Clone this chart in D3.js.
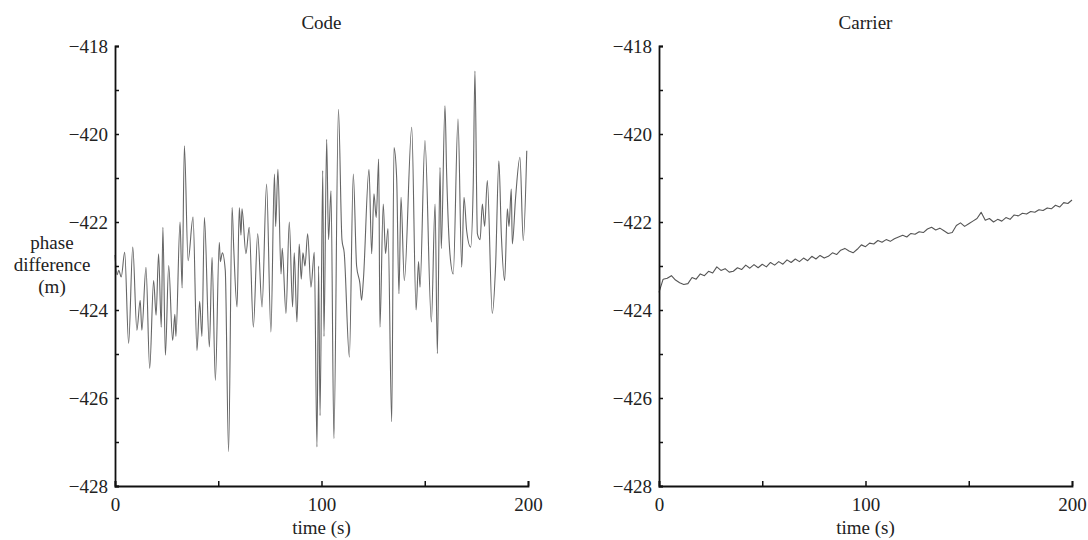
<!DOCTYPE html>
<html>
<head>
<meta charset="utf-8">
<script src="https://cdn.jsdelivr.net/npm/d3@7"></script>
<style>
  body { margin: 0; background: #fff; }
  svg text { font-family: "Liberation Serif", "Times New Roman", serif; fill: #222; }
</style>
</head>
<body>
<script>
// canvas size
var width = 1088;
var height = 540;

// plot boxes (left = Code, right = Carrier)
var top_y = 46, bottom_y = 486;
var panels = [
  {title: "Code", x0: 115, x1: 528},
  {title: "Carrier", x0: 659, x1: 1072}
];

// axis ticks
var yTicks = [-428, -427, -426, -425, -424, -423, -422, -421, -420, -419, -418];
var yLabels = [-428, -426, -424, -422, -420, -418];
var xTicks = [0, 50, 100, 150, 200];
var xLabels = [0, 100, 200];

// code phase difference (time s, value m)
var codeTime = [0, 1, 1.8, 3, 4.7, 6.6, 8.6, 10.6, 12.2, 13, 15, 16.8, 18.7, 19.9, 21.1, 22.4, 23.2, 24.4, 26, 27.9,
  29, 29.5, 31.5, 32.5, 33.6, 35.4, 37.8, 39.7, 41, 42.1, 43.3, 45.7, 47, 48.6, 50.5, 51, 52, 53.4, 55, 56.7,
  57.5, 59.1, 60.2, 61, 61.5, 63.4, 65, 67, 69.1, 71.2, 73.4, 75.5, 77.2, 77.8, 78.9, 80.4, 81, 82.8, 84.4, 86,
  86.8, 88.1, 89.2, 90.2, 91, 92, 93.3, 94.9, 96.5, 97.8, 98.6, 99.3, 100.6, 101.2, 102.5, 103.4, 104.6, 106, 108.2, 109.9,
  111, 113.5, 115.4, 117, 118.6, 119.4, 120.3, 123, 124.3, 125.4, 126.5, 127.7, 128.3, 129.9, 131, 132.2, 134, 135.1, 136.4, 137.5,
  138.5, 140.1, 143.7, 145.8, 147, 147.7, 150.1, 153.2, 155, 156.1, 157.4, 158, 159.8, 160.6, 162.2, 163.8, 166.1, 167.9, 169, 170.3,
  172.2, 173.5, 174.3, 175.5, 176.8, 177.9, 179, 180.3, 182.7, 184.3, 185.9, 187.1, 188.7, 190, 190.8, 191.9, 192.4, 194, 196.1, 197.7,
  199.4];
var codeValue = [-422.75, -423.2, -423.1, -423.25, -422.69, -424.76, -422.57, -424.46, -423.78, -424.46, -423.03, -425.33, -423.33, -424.12, -422.72, -424.39, -422.12, -425.03, -422.99, -424.69,
  -424.1, -424.6, -422.0, -423.5, -420.27, -422.88, -421.89, -424.92, -423.8, -424.6, -421.9, -424.84, -422.8, -425.6, -422.46, -422.9, -422.7, -423.1, -427.22, -421.67,
  -422.6, -423.93, -421.67, -422.3, -421.7, -422.72, -422.12, -424.39, -422.27, -423.93, -421.14, -424.5, -420.91, -422.1, -420.8, -423.18, -422.6, -424.08, -422.0, -423.93,
  -422.7, -424.27, -422.5, -423.3, -422.7, -423.0, -422.27, -423.48, -422.69, -427.11, -423.0, -426.4, -420.83, -424.6, -420.12, -422.4, -421.29, -426.92, -419.44, -422.4,
  -422.7, -425.07, -420.91, -423.0, -423.4, -423.78, -423.3, -420.8, -422.72, -421.36, -421.9, -420.57, -424.39, -421.59, -422.72, -422.15, -426.54, -420.31, -421.0, -423.63,
  -421.44, -423.33, -419.85, -424.0, -422.9, -423.48, -420.15, -424.27, -421.59, -424.99, -420.76, -422.6, -419.36, -420.9, -422.72, -423.18, -419.66, -423.03, -421.44, -422.2,
  -422.57, -421.1, -418.57, -422.27, -422.4, -421.59, -422.1, -421.06, -424.08, -423.0, -420.61, -422.3, -423.33, -421.7, -422.1, -421.25, -422.5, -421.44, -420.53, -422.42,
  -420.38];

// carrier phase difference, every 2 s
var carrierTime = d3.range(0, 201, 2);
var carrierValue = [-423.60, -423.30, -423.28, -423.22, -423.32, -423.38, -423.42, -423.40, -423.26, -423.30,
  -423.18, -423.22, -423.12, -423.16, -423.02, -423.10, -423.06, -423.14, -423.12, -423.04,
  -423.08, -422.98, -423.05, -422.97, -423.04, -422.96, -423.02, -422.92, -422.98, -422.90,
  -422.96, -422.86, -422.92, -422.84, -422.90, -422.82, -422.88, -422.78, -422.84, -422.76,
  -422.82, -422.78, -422.70, -422.74, -422.64, -422.60, -422.66, -422.70, -422.62, -422.52,
  -422.56, -422.48, -422.50, -422.42, -422.46, -422.40, -422.44, -422.38, -422.34, -422.30,
  -422.34, -422.26, -422.28, -422.22, -422.24, -422.16, -422.12, -422.18, -422.14, -422.20,
  -422.26, -422.24, -422.08, -422.02, -422.10, -422.04, -421.98, -421.92, -421.78, -421.96,
  -421.92, -422.00, -421.94, -421.98, -421.90, -421.94, -421.84, -421.86, -421.80, -421.82,
  -421.76, -421.78, -421.72, -421.74, -421.68, -421.70, -421.62, -421.66, -421.56, -421.58,
  -421.50];

var series = [
  codeTime.map(function(t, i) { return {t: t, v: codeValue[i]}; }),
  carrierTime.map(function(t, i) { return {t: t, v: carrierValue[i]}; })
];
var curves = [d3.curveMonotoneX, d3.curveLinear];
var strokes = ["#666", "#555"];

var svg = d3.select("body").append("svg")
    .attr("width", width)
    .attr("height", height);

var y = d3.scaleLinear().domain([-428, -418]).range([bottom_y, top_y]);
var fmt = d3.format("d");

panels.forEach(function(p, i) {
  var x = d3.scaleLinear().domain([0, 200]).range([p.x0, p.x1]);
  var g = svg.append("g");

  // data line
  var line = d3.line()
      .curve(curves[i])
      .x(function(d) { return x(d.t); })
      .y(function(d) { return y(d.v); });
  g.append("path")
      .datum(series[i])
      .attr("fill", "none")
      .attr("stroke", strokes[i])
      .attr("stroke-width", 1.1)
      .attr("stroke-linejoin", "round")
      .attr("d", line);

  // y axis, ticks pointing inward
  var yAxis = d3.axisLeft(y)
      .tickValues(yTicks)
      .tickSize(-4)
      .tickSizeOuter(-4)
      .tickPadding(7)
      .tickFormat(function(d) { return yLabels.indexOf(d) >= 0 ? fmt(d) : ""; });
  var ya = g.append("g")
      .attr("transform", "translate(" + p.x0 + ",0)")
      .call(yAxis);

  // x axis
  var xAxis = d3.axisBottom(x)
      .tickValues(xTicks)
      .tickSize(-5)
      .tickSizeOuter(-5)
      .tickPadding(12)
      .tickFormat(function(d) { return xLabels.indexOf(d) >= 0 ? fmt(d) : ""; });
  var xa = g.append("g")
      .attr("transform", "translate(0," + bottom_y + ")")
      .call(xAxis);

  [ya, xa].forEach(function(a) {
    a.select(".domain").attr("stroke", "#111").attr("stroke-width", 1.8);
    a.selectAll(".tick line").attr("stroke", "#111").attr("stroke-width", 1.5);
    a.selectAll("text").attr("font-size", 19).attr("font-family", "Liberation Serif").attr("fill", "#222");
  });

  // title
  g.append("text")
      .attr("x", (p.x0 + p.x1) / 2)
      .attr("y", 29)
      .attr("text-anchor", "middle")
      .attr("font-size", 19)
      .text(p.title);

  // x label
  g.append("text")
      .attr("x", (p.x0 + p.x1) / 2)
      .attr("y", 534)
      .attr("text-anchor", "middle")
      .attr("font-size", 19)
      .text("time (s)");
});

// y label, left panel only
var ylab = svg.append("text")
    .attr("text-anchor", "middle")
    .attr("font-size", 19);
["phase", "difference", "(m)"].forEach(function(s, i) {
  ylab.append("tspan")
      .attr("x", 52)
      .attr("y", 249 + i * 22)
      .text(s);
});
</script>
</body>
</html>
